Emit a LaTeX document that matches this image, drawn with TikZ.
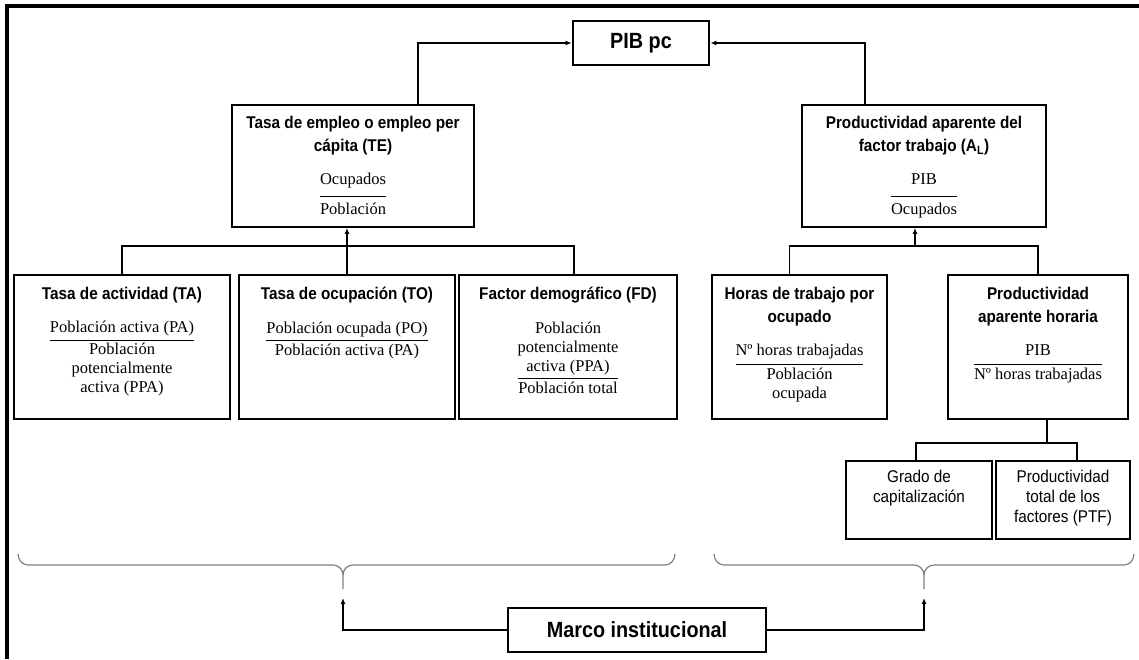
\documentclass[tikz,border=0pt]{standalone}
\usepackage{fontspec}
\setmainfont{Liberation Serif}
\setsansfont{Liberation Sans}[FakeStretch=0.9]
\usetikzlibrary{arrows.meta, positioning}
\setlength{\arrayrulewidth}{1pt}
\newcommand{\frc}[3][0pt]{\begin{tabular}{@{}c@{}}#2\\[#1]\hline
  \rule{0pt}{\dimexpr 13.3pt+#1\relax}#3\end{tabular}}

\begin{document}
\begin{tikzpicture}[x=1pt, y=-1pt,
    box/.style={draw, line width=1.8pt, inner sep=0pt},
    kbox/.style={draw, line width=2.8pt, inner sep=0pt,
      font=\sffamily\bfseries\fontsize{22}{26}\selectfont},
    hd/.style={align=center, inner sep=0pt,
      font=\sffamily\bfseries\fontsize{17}{23}\selectfont},
    fr/.style={inner sep=0pt, font=\fontsize{16.5}{19}\selectfont},
    pl/.style={align=center, inner sep=0pt,
      font=\sffamily\fontsize{17}{20}\selectfont},
    ln/.style={line width=1.8pt},
    arr/.style={line width=1.8pt, -{Latex[length=6pt, width=5pt]}},
    brc/.style={draw=gray, line width=1.2pt},
    node distance=16pt
  ]
  \useasboundingbox (0,0) rectangle (1139,659);
  \draw[line width=4pt] (6.5,659) -- (6.5,6.3) -- (1139,6.3);

  % top level
  \node[kbox, minimum width=136pt, minimum height=44pt] (pib) at (641,43) {PIB pc};

  \node[box, minimum width=242pt, minimum height=122pt] (te) at (353,166) {};
  \node[hd, below=12pt of te.north] (te-h) {Tasa de empleo o empleo per\\c\'apita (TE)};
  \node[fr, below=of te-h] (te-f) {\frc[5pt]{Ocupados}{Poblaci\'on}};

  \node[box, minimum width=244pt, minimum height=122pt] (al) at (924,166) {};
  \node[hd, below=12pt of al.north] (al-h) {Productividad aparente del\\factor trabajo (A\textsubscript{L})};
  \node[fr, below=of al-h] (al-f) {\frc[5pt]{PIB}{Ocupados}};

  % second level
  \node[box, minimum width=216pt, minimum height=144pt] (ta) at (122,347) {};
  \node[hd, below=13pt of ta.north] (ta-h) {Tasa de actividad (TA)};
  \node[fr, below=of ta-h] (ta-f) {\frc[1pt]{Poblaci\'on activa (PA)}{Poblaci\'on\\potencialmente\\activa (PPA)}};

  \node[box, minimum width=216pt, minimum height=144pt] (to) at (347,347) {};
  \node[hd, below=13pt of to.north] (to-h) {Tasa de ocupaci\'on (TO)};
  \node[fr, below=of to-h] (to-f) {\frc[1pt]{Poblaci\'on ocupada (PO)}{Poblaci\'on activa (PA)}};

  \node[box, minimum width=218pt, minimum height=144pt] (fd) at (568,347) {};
  \node[hd, below=13pt of fd.north] (fd-h) {Factor demogr\'afico (FD)};
  \node[fr, below=of fd-h] (fd-f) {\frc[1pt]{Poblaci\'on\\potencialmente\\activa (PPA)}{Poblaci\'on total}};

  \node[box, minimum width=175pt, minimum height=144pt] (ho) at (799.5,347) {};
  \node[hd, below=13pt of ho.north] (ho-h) {Horas de trabajo por\\ocupado};
  \node[fr, below=of ho-h] (ho-f) {\frc[2pt]{Nº horas trabajadas}{Poblaci\'on\\ocupada}};

  \node[box, minimum width=180pt, minimum height=144pt] (pah) at (1038,347) {};
  \node[hd, below=13pt of pah.north] (pah-h) {Productividad\\aparente horaria};
  \node[fr, below=of pah-h] (pah-f) {\frc[2pt]{PIB}{Nº horas trabajadas}};

  % third level
  \node[box, minimum width=146pt, minimum height=78pt] (gc) at (919,500) {};
  \node[pl, below=10pt of gc.north] (gc-t) {Grado de\\capitalizaci\'on};
  \node[box, minimum width=134pt, minimum height=78pt] (ptf) at (1063,500) {};
  \node[pl, below=10pt of ptf.north] (ptf-t) {Productividad\\total de los\\factores (PTF)};

  \node[kbox, minimum width=258pt, minimum height=44pt] (marco) at (637,630) {Marco institucional};

  % connectors
  \draw[arr] ([xshift=65pt]te.north) |- (pib.west);
  \draw[arr] ([xshift=-59pt]al.north) |- (pib.east);

  \draw[ln] (ta.north) -- ++(0,-28) -| ([xshift=6pt]fd.north);
  \draw[arr] (to.north) -- (to.north |- te.south);

  \coordinate (rj) at (915,246);
  \draw[ln] ([xshift=-10pt]ho.north) -- ++(0,-28) -| (pah.north);
  \draw[arr] (rj) -- (rj |- al.south);

  \draw[ln] ([xshift=9pt]pah.south) -- ++(0,23) coordinate (pj);
  \draw[ln] ([xshift=-3pt]gc.north) |- (pj) -| ([xshift=14pt]ptf.north);

  % braces
  \draw[brc] (18,554) to[out=-90,in=180] (28,565) -- (333,565)
    to[out=0,in=90] (343,575) -- (343,589);
  \draw[brc] (675,554) to[out=-90,in=0] (665,565) -- (353,565)
    to[out=180,in=90] (343,575);
  \draw[brc] (714,554) to[out=-90,in=180] (724,565) -- (914,565)
    to[out=0,in=90] (924,575) -- (924,589);
  \draw[brc] (1134,554) to[out=-90,in=0] (1124,565) -- (934,565)
    to[out=180,in=90] (924,575);

  \coordinate (lb) at (343,598);
  \coordinate (rb) at (924,598);
  \draw[arr] (marco.west) -| (lb);
  \draw[arr] (marco.east) -| (rb);
\end{tikzpicture}
\end{document}
